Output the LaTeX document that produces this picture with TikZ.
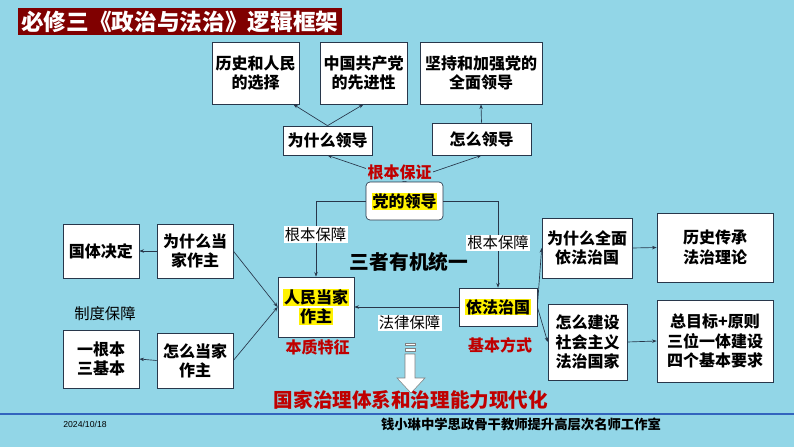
\documentclass[tikz,border=0pt]{standalone}
\usepackage{fontspec}
\setmainfont{Noto Sans CJK SC}
\newfontfamily\datefont{Liberation Sans}
\usetikzlibrary{arrows.meta}

\definecolor{bgblue}{RGB}{146,214,231}
\definecolor{titlered}{RGB}{128,0,0}
\definecolor{labelred}{RGB}{192,0,0}
\definecolor{linegray}{RGB}{40,55,75}
\definecolor{rulerblue}{RGB}{50,100,190}

% yellow marker behind a line of text
\newcommand{\hlt}[1]{{\setlength{\fboxsep}{0.6pt}\colorbox{yellow}{#1}}}

\tikzset{
  box/.style={draw=linegray, fill=white, line width=0.5pt, align=center,
    inner sep=1pt, font={\fontsize{12}{14.5}\selectfont\bfseries}},
  link/.style={draw=linegray, line width=0.5pt,
    -{Stealth[length=3.5pt,width=2.6pt]}},
  redlabel/.style={text=labelred, inner sep=1pt,
    font={\fontsize{12}{14}\selectfont\bfseries}},
  guard/.style={fill=white, inner sep=1pt,
    font={\fontsize{11.5}{13}\selectfont}},
}

\begin{document}
\begin{tikzpicture}[x=0.75pt, y=-0.75pt]

\useasboundingbox [fill=bgblue] (0,0) rectangle (794,447);

\node [fill=titlered, text=white, inner sep=0pt, minimum width=243pt,
minimum height=20.25pt, font={\fontsize{17}{17}\selectfont\bfseries}]
(title) at (180,21.5) {必修三《政治与法治》逻辑框架};


%% top row
\node [box, minimum width=65.25pt, minimum height=46.5pt] (hist)
 at (255.5,73) {历史和人民\\的选择};

\node [box, minimum width=65.25pt, minimum height=46.5pt] (adv)
 at (363.5,73) {中国共产党\\的先进性};

\node [box, minimum width=91.5pt, minimum height=46.5pt] (lead)
 at (481,73) {坚持和加强党的\\全面领导};

\node [box, minimum width=66.75pt, minimum height=21.75pt] (whylead)
 at (327.5,140.5) {为什么领导};

\node [box, minimum width=74.25pt, minimum height=24pt] (howlead)
 at (481.5,139) {怎么领导};


%% the three in one
\node [box, rounded corners=3pt, minimum width=57.75pt, minimum height=28.5pt] (dang)
 at (404.5,201) {\hlt{党的领导}};

\node [box, minimum width=57pt, minimum height=45pt] (people)
 at (316,307) {\hlt{人民当家}\\\hlt{作主}};

\node [box, minimum width=58.5pt, minimum height=28.5pt] (yifa)
 at (498,307) {\hlt{依法治国}};

\node [font={\fontsize{14.8}{15}\selectfont\bfseries}] (unity)
 at (409,262) {三者有机统一};

\node [redlabel] (essence) at (317.5,347.5) {本质特征};

\node [redlabel] (basic) at (500,345) {基本方式};


%% left side
\node [box, minimum width=57pt, minimum height=40.5pt] (guoti)
 at (101,251) {国体决定};

\node [box, minimum width=57pt, minimum height=40.5pt] (whypeople)
 at (195,251) {为什么当\\家作主};

\node [box, minimum width=57pt, minimum height=43.5pt] (genben)
 at (101,359) {一根本\\三基本};

\node [box, minimum width=57pt, minimum height=41.25pt] (howpeople)
 at (195,360.5) {怎么当家\\作主};

\node [font={\fontsize{11.5}{13}\selectfont}] (system)
 at (105,314) {制度保障};


%% right side
\node [box, minimum width=67.5pt, minimum height=45pt] (whylaw)
 at (587,248) {为什么全面\\依法治国};

\node [box, minimum width=87pt, minimum height=51.75pt] (tradition)
 at (715,247.5) {历史传承\\法治理论};

\node [box, minimum width=59.25pt, minimum height=57pt] (howlaw)
 at (587.5,342) {怎么建设\\社会主义\\法治国家};

\node [box, minimum width=87pt, minimum height=61.5pt] (goal)
 at (715,341) {总目标+原则\\三位一体建设\\四个基本要求};


%% connectors
\draw [link] (whylead.north) -- ([xshift=-4.5pt]hist.south east);
\draw [link] (whylead.north) -- (adv.south);
\draw [link] (howlead.north) -- (lead.south);

\draw [link] (dang.north) -- (whylead.south);
\draw [link] (dang.north) -- (howlead.south);

\draw [link] (dang.west) -| (people.north);
\draw [link] (dang.east) -| (yifa.north);
\draw [link] (yifa.west) -- (people.east);

\draw [link] (whypeople.west) -- (guoti.east);
\draw [link] (whypeople.east) -- (people.west);
\draw [link] (howpeople.west) -- (genben.east);
\draw [link] (howpeople.east) -- (people.west);

\draw [link] (yifa.east) -- (whylaw.west);
\draw [link] (yifa.east) -- (howlaw.west);
\draw [link] (whylaw.east) -- (tradition.west);
\draw [link] (howlaw.east) -- (goal.west);


%% labels on the lines
\node [redlabel, fill=bgblue] (guarantee) at (399.5,172.5) {根本保证};

\node [guard] (guardl) at (315.5,234.5) {根本保障};
\node [guard] (guardr) at (498,243) {根本保障};
\node [guard] (lawguard) at (409.5,323) {法律保障};


%% hollow arrow down
\filldraw [fill=white, draw=gray, line width=0.4pt]
 (405,343) rectangle (415,345.5)
 (405,348) rectangle (415,351.5);
\filldraw [fill=white, draw=gray, line width=0.4pt]
 (405,354) -- (415,354) -- (415,378) -- (425,378) -- (411,393)
 -- (397,378) -- (405,378) -- cycle;

\node [text=labelred, font={\fontsize{14.7}{15}\selectfont\bfseries}] (aim)
 at (411,400) {国家治理体系和治理能力现代化};


%% footer
\draw [rulerblue, line width=1.5pt] (0,414) -- (794,414);

\node [font={\datefont\fontsize{6.5}{7}\selectfont}] (date)
 at (85,424) {2024/10/18};

\node [font={\fontsize{10}{11}\selectfont\bfseries}] (studio)
 at (521,424) {钱小琳中学思政骨干教师提升高层次名师工作室};

\end{tikzpicture}
\end{document}
